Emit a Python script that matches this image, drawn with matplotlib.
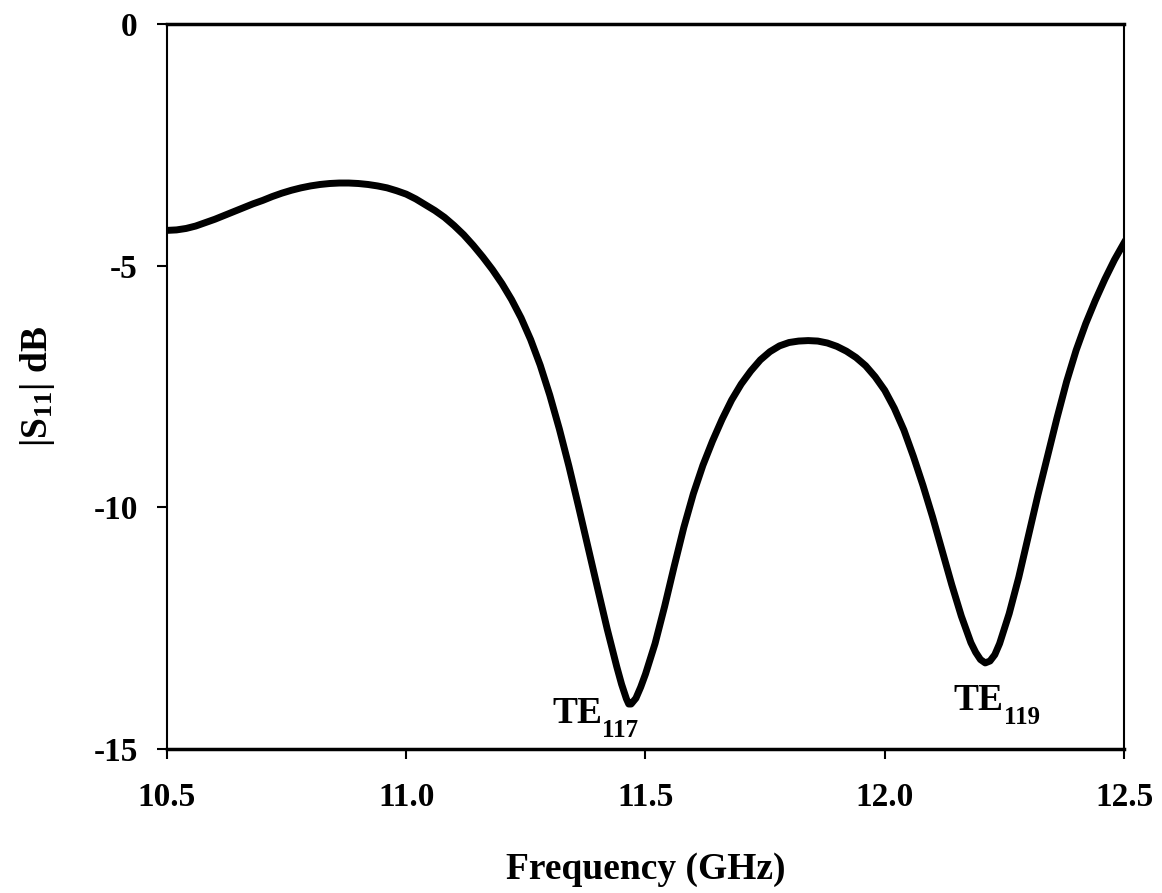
import matplotlib
matplotlib.use("Agg")
import matplotlib.pyplot as plt

plt.rcParams['font.family'] = ['Liberation Serif', 'DejaVu Serif']
plt.rcParams['font.weight'] = 'bold'
plt.rcParams['mathtext.fontset'] = 'custom'
plt.rcParams['mathtext.rm'] = 'Liberation Serif:bold'
plt.rcParams['mathtext.it'] = 'Liberation Serif:bold'
plt.rcParams['mathtext.bf'] = 'Liberation Serif:bold'

freq = [10.50, 10.52, 10.54, 10.56, 10.58, 10.60, 10.62, 10.64, 10.66, 10.68,
        10.70, 10.72, 10.74, 10.76, 10.78, 10.80, 10.82, 10.84, 10.86, 10.88,
        10.90, 10.92, 10.94, 10.96, 10.98, 11.00, 11.02, 11.04, 11.06, 11.08,
        11.10, 11.12, 11.14, 11.16, 11.18, 11.20, 11.22, 11.24, 11.26, 11.28,
        11.30, 11.32, 11.34, 11.36, 11.38, 11.40, 11.42, 11.44, 11.45, 11.46,
        11.465, 11.47, 11.48, 11.49, 11.50, 11.52, 11.54, 11.56, 11.58, 11.60,
        11.62, 11.64, 11.66, 11.68, 11.70, 11.72, 11.74, 11.76, 11.78, 11.80,
        11.82, 11.84, 11.86, 11.88, 11.90, 11.92, 11.94, 11.96, 11.98, 12.00,
        12.02, 12.04, 12.06, 12.08, 12.10, 12.12, 12.14, 12.16, 12.18, 12.19,
        12.20, 12.21, 12.22, 12.23, 12.24, 12.26, 12.28, 12.30, 12.32, 12.34,
        12.36, 12.38, 12.40, 12.42, 12.44, 12.46, 12.48, 12.50]
s11 = [-4.27, -4.26, -4.23, -4.18, -4.11, -4.04, -3.96, -3.88, -3.80, -3.72,
       -3.65, -3.57, -3.50, -3.44, -3.39, -3.35, -3.32, -3.30, -3.29, -3.29,
       -3.30, -3.32, -3.35, -3.39, -3.45, -3.52, -3.62, -3.74, -3.86, -4.00,
       -4.17, -4.36, -4.58, -4.82, -5.08, -5.37, -5.70, -6.08, -6.53, -7.06,
       -7.68, -8.38, -9.15, -9.98, -10.83, -11.68, -12.52, -13.30, -13.66, -13.96,
       -14.07, -14.07, -13.95, -13.72, -13.45, -12.82, -12.05, -11.22, -10.42, -9.72,
       -9.13, -8.63, -8.18, -7.78, -7.45, -7.18, -6.95, -6.78, -6.66, -6.59,
       -6.56, -6.55, -6.56, -6.60, -6.67, -6.77, -6.90, -7.07, -7.30, -7.58,
       -7.95, -8.40, -8.95, -9.55, -10.20, -10.90, -11.60, -12.25, -12.80, -13.00,
       -13.15, -13.22, -13.18, -13.05, -12.82, -12.20, -11.45, -10.60, -9.75, -8.95,
       -8.15, -7.40, -6.75, -6.20, -5.72, -5.28, -4.88, -4.53]

x_ticks = [10.5, 11.0, 11.5, 12.0, 12.5]
x_tick_labels = ['10.5', '11.0', '11.5', '12.0', '12.5']
y_ticks = [0, -5, -10, -15]
y_tick_labels = ['0', '-5', '-10', '-15']

mode_names = ['TE', 'TE']
mode_subs = ['117', '119']
# label anchor: (left x, baseline y) in data units
mode_pos = [(11.305, -14.47), (12.144, -14.20)]
sub_drop = 0.28

fig = plt.figure(figsize=(11.62, 8.93), dpi=100)
ax = fig.add_axes([0.1437, 0.1613, 0.9673 - 0.1437, 0.9731 - 0.1613])
ax.plot(freq, s11, color='black', linewidth=5, solid_joinstyle='round')
ax.set_xlim(10.5, 12.5)
ax.set_ylim(-15, 0)
ax.set_xticks(x_ticks)
ax.set_xticklabels(x_tick_labels)
ax.set_yticks(y_ticks)
ax.set_yticklabels(y_tick_labels)
ax.tick_params(axis='both', direction='out', length=7, width=1.5, labelsize=24)
ax.tick_params(axis='x', pad=17)
ax.tick_params(axis='y', pad=14)
for side in ['left', 'right']:
    ax.spines[side].set_linewidth(1.5)
for side in ['top', 'bottom']:
    ax.spines[side].set_linewidth(2.5)
for lbl in ax.get_xticklabels() + ax.get_yticklabels():
    lbl.set_fontweight('bold')

ax.set_xlabel('Frequency (GHz)', fontsize=27, fontweight='bold', labelpad=28)
ax.set_ylabel('|S$_{11}$| dB', fontsize=27, fontweight='bold', labelpad=26)

for name, sub, (x0, y0) in zip(mode_names, mode_subs, mode_pos):
    t = ax.text(x0, y0, name, fontsize=27, ha='left', va='baseline')
    ax.annotate(sub, xy=(1.0, y0 - sub_drop), xycoords=(t, 'data'),
                fontsize=18, ha='left', va='baseline', annotation_clip=False)

fig.savefig('out.png', dpi=100)
